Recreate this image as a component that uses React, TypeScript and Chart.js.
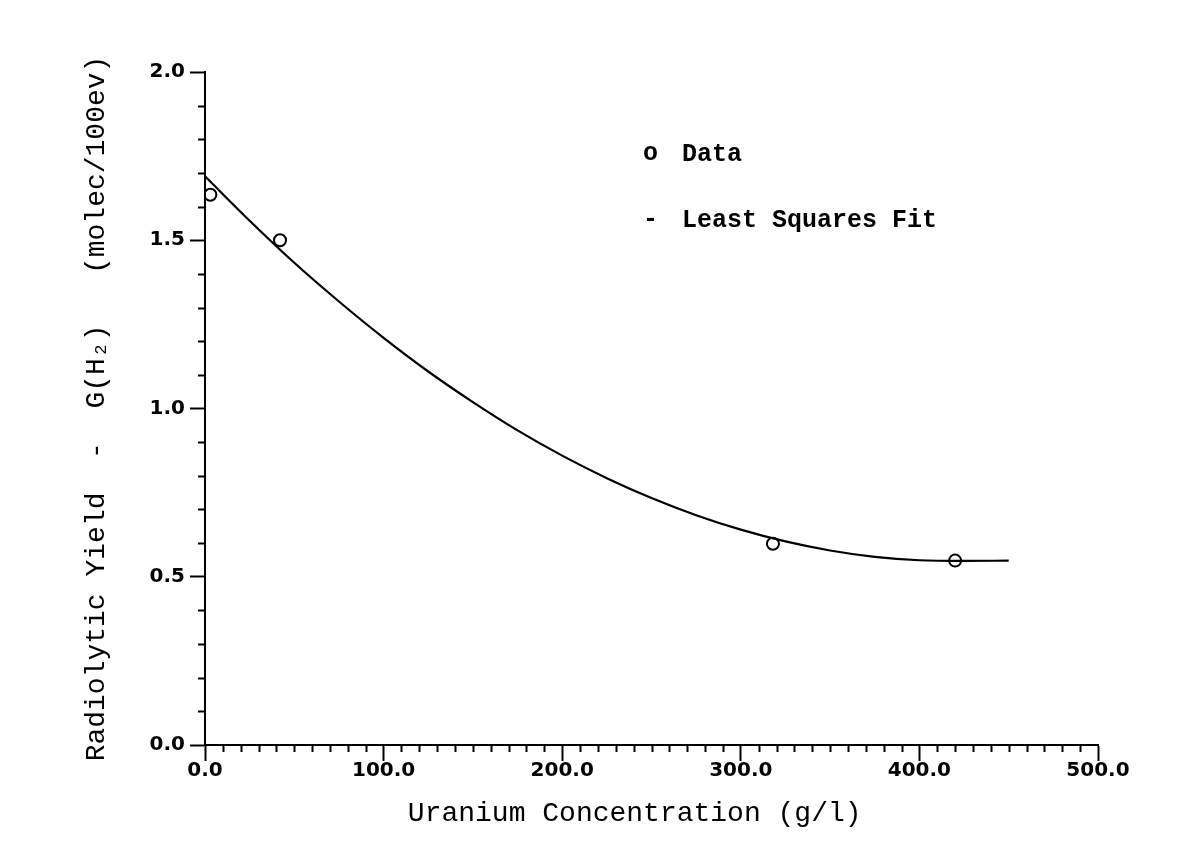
import React, { useEffect, useRef } from "react";
import { Chart, registerables } from "chart.js";

Chart.register(...registerables);

// Measured data points (Uranium g/l, G(H2) molec/100eV)
const dataX = [3, 42, 318, 420];
const dataY = [1.635, 1.5, 0.598, 0.548];

// Least squares fit curve
const fitX = [0, 25, 50, 75, 100, 125, 150, 175, 200, 225, 250, 275, 300, 325, 350, 375, 400, 425, 450];
const fitY = [1.69, 1.558, 1.433, 1.318, 1.21, 1.11, 1.019, 0.935, 0.86, 0.793, 0.734, 0.683, 0.64, 0.605, 0.578, 0.559, 0.549, 0.547, 0.548];

const xTickValues = [0, 100, 200, 300, 400, 500];
const yTickValues = [0, 0.5, 1.0, 1.5, 2.0];

const xTitle = "Uranium Concentration (g/l)  ";
const yTitle = "Radiolytic Yield  -  G(H\u2082)   (molec/100ev)";
const legendLabels = ["Data", "Least Squares Fit"];
const legendSymbols = ["o", "-"];

const W = 1183;
const H = 848;

const minorTicks = {
  id: "minorTicks",
  afterDraw(chart: any) {
    const ctx = chart.ctx;
    const xs = chart.scales.x;
    const ys = chart.scales.y;
    ctx.save();
    ctx.strokeStyle = "#000";
    ctx.lineWidth = 2;
    ctx.beginPath();
    for (let i = 1; i < 50; i++) {
      if (i % 10 === 0) continue;
      const px = Math.round(xs.getPixelForValue(i * 10)) + 0.5;
      ctx.moveTo(px, xs.top);
      ctx.lineTo(px, xs.top + 7);
    }
    for (let i = 1; i < 20; i++) {
      if (i % 5 === 0) continue;
      const py = Math.round(ys.getPixelForValue(i / 10)) + 0.5;
      ctx.moveTo(ys.right, py);
      ctx.lineTo(ys.right - 7, py);
    }
    ctx.stroke();
    ctx.restore();
  },
};

export default function App() {
  const ref = useRef<HTMLCanvasElement | null>(null);

  useEffect(() => {
    if (!ref.current) return;
    const chart = new Chart(ref.current, {
      type: "scatter",
      data: {
        datasets: [
          {
            label: legendLabels[0],
            data: dataX.map((x, i) => ({ x, y: dataY[i] })),
            showLine: false,
            pointStyle: "circle",
            pointRadius: 6,
            pointBorderWidth: 2,
            borderColor: "#000",
            backgroundColor: "rgba(0,0,0,0)",
          },
          {
            label: legendLabels[1],
            data: fitX.map((x, i) => ({ x, y: fitY[i] })),
            showLine: true,
            pointRadius: 0,
            borderColor: "#000",
            borderWidth: 2.2,
            cubicInterpolationMode: "monotone",
          } as any,
        ],
      },
      options: {
        responsive: false,
        animation: false,
        devicePixelRatio: 1,
        layout: { padding: { top: 72, right: 85, left: 0, bottom: 0 } },
        plugins: { legend: { display: false }, tooltip: { enabled: false } },
        scales: {
          x: {
            type: "linear",
            min: 0,
            max: 500,
            afterBuildTicks: (s: any) => {
              s.ticks = xTickValues.map((v) => ({ value: v }));
            },
            afterFit: (s: any) => {
              s.height = 103;
            },
            ticks: {
              callback: (v: any) => Number(v).toFixed(1),
              color: "#000",
              font: { family: "DejaVu Sans", weight: "bold", size: 20, lineHeight: 1 },
              padding: 0,
              maxRotation: 0,
              autoSkip: false,
            },
            grid: {
              drawOnChartArea: false,
              drawTicks: true,
              tickLength: 16,
              tickColor: "#000",
              tickWidth: 2,
            },
            border: { color: "#000", width: 2 },
            title: {
              display: true,
              text: xTitle,
              color: "#000",
              font: { family: "Liberation Mono", size: 28 },
              padding: { top: 0, bottom: 18 },
            },
          },
          y: {
            type: "linear",
            min: 0,
            max: 2,
            afterBuildTicks: (s: any) => {
              s.ticks = yTickValues.map((v) => ({ value: v }));
            },
            afterFit: (s: any) => {
              s.width = 205;
            },
            ticks: {
              callback: (v: any) => Number(v).toFixed(1),
              color: "#000",
              font: { family: "DejaVu Sans", weight: "bold", size: 20 },
              padding: 5,
            },
            grid: {
              drawOnChartArea: false,
              drawTicks: true,
              tickLength: 15,
              tickColor: "#000",
              tickWidth: 2,
            },
            border: { color: "#000", width: 2 },
            title: {
              display: true,
              text: yTitle,
              color: "#000",
              font: { family: "Liberation Mono", size: 28 },
              padding: { top: 80, bottom: 0 },
            },
          },
        },
      },
      plugins: [minorTicks],
    });
    return () => chart.destroy();
  }, []);

  const legendFont: React.CSSProperties = {
    position: "absolute",
    fontFamily: "'Liberation Mono', monospace",
    fontWeight: "bold",
    fontSize: 25,
    lineHeight: "25px",
    color: "#000",
    whiteSpace: "pre",
  };

  return (
    <div style={{ position: "absolute", left: 0, top: 0, width: W, height: H, background: "#fff" }}>
      <canvas ref={ref} width={W} height={H} style={{ width: W, height: H, display: "block" }} />
      <span style={{ ...legendFont, left: 643, top: 141 }}>{legendSymbols[0]}</span>
      <span style={{ ...legendFont, left: 682, top: 142 }}>{legendLabels[0]}</span>
      <span style={{ ...legendFont, left: 643, top: 207 }}>{legendSymbols[1]}</span>
      <span style={{ ...legendFont, left: 682, top: 208 }}>{legendLabels[1]}</span>
    </div>
  );
}
